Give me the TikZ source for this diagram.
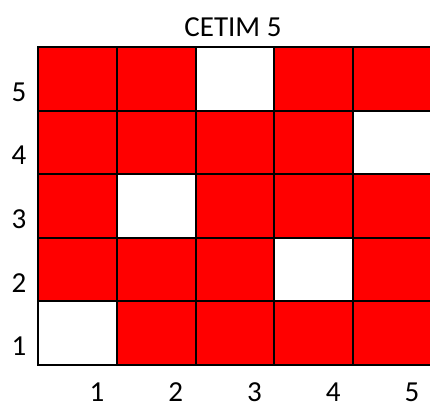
\documentclass[tikz,border=0pt]{standalone}
\usepackage{fontspec}
\setmainfont{Carlito}
\usetikzlibrary{positioning}

\begin{document}
\begin{tikzpicture}[
  x=1pt, y=-1pt,
  cell/.style={rectangle, draw=black, line width=2pt, fill=red, minimum width=78.75pt, minimum height=63.6pt, inner sep=0pt, anchor=north west},
  free/.style={cell, fill=white},
  lab/.style={font=\fontsize{29}{29}\selectfont, inner sep=0pt},
]
  \useasboundingbox (0,0) rectangle (430,403);
  \clip (0,0) rectangle (430,403);

  % cells, one white cell per row
  \foreach \r/\w in {1/1,2/4,3/2,4/5,5/3} {
    \foreach \c in {1,...,5} {
      \def\st{cell}\ifnum\c=\w\def\st{free}\fi
      \node[\st] (c\r\c) at ({37+(\c-1)*78.75},{46+(5-\r)*63.6}) {};
    }
  }

  % axis numbers
  \foreach \r in {1,...,5}
    \node[lab] (row\r) at (19,{92+(5-\r)*63.6}) {\r};
  \foreach \c in {1,...,5}
    \node[lab] (col\c) at ({97+(\c-1)*78.75},392) {\c};

  \node[lab] (title) at (233,27) {CETIM 5};
\end{tikzpicture}
\end{document}
